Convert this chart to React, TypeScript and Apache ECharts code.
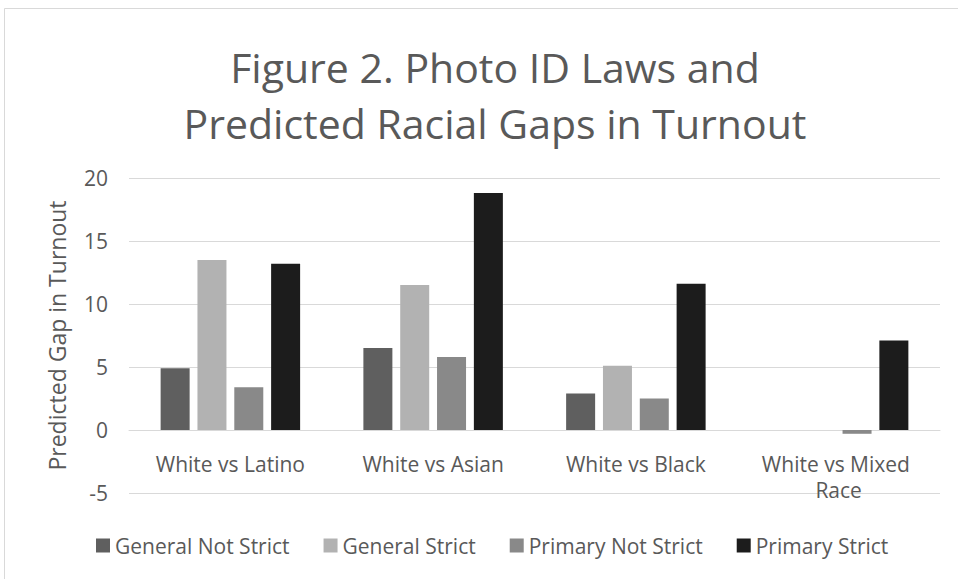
import React, { useEffect, useRef } from "react";
import * as echarts from "echarts";

const categories = ["White vs Latino", "White vs Asian", "White vs Black", "White vs Mixed Race"];
const seriesNames = ["General Not Strict", "General Strict", "Primary Not Strict", "Primary Strict"];
const generalNotStrict = [4.9, 6.5, 2.9, 0];
const generalStrict = [13.5, 11.5, 5.1, 0];
const primaryNotStrict = [3.4, 5.8, 2.5, -0.3];
const primaryStrict = [13.2, 18.8, 11.6, 7.1];
const colors = ["#5f5f5f", "#b2b2b2", "#898989", "#1c1c1c"];

const FONT = "'Open Sans', 'Noto Sans', sans-serif";
const TXT = "#595959";

export default function App() {
  const ref = useRef<HTMLDivElement>(null);
  useEffect(() => {
    if (!ref.current) return;
    const chart = echarts.init(ref.current, undefined, { renderer: "svg" });
    const values = [generalNotStrict, generalStrict, primaryNotStrict, primaryStrict];
    chart.setOption({
      animation: false,
      backgroundColor: "#ffffff",
      title: {
        text: "Figure 2. Photo ID Laws and\nPredicted Racial Gaps in Turnout",
        left: 490,
        top: 34,
        textAlign: "center",
        textStyle: { fontFamily: FONT, fontSize: 41, fontWeight: "normal", color: TXT, lineHeight: 56 },
      },
      graphic: [
        {
          type: "rect",
          shape: { x: 4.5, y: 8.5, width: 1000, height: 1000 },
          style: { fill: "none", stroke: "#d9d9d9", lineWidth: 1 },
          silent: true,
        },
      ],
      legend: {
        data: seriesNames,
        left: 91,
        top: 530,
        itemWidth: 14,
        itemHeight: 14,
        itemGap: 34,
        icon: "rect",
        textStyle: { fontFamily: FONT, fontSize: 21, color: TXT },
      },
      grid: { left: 129, right: 18, top: 178, bottom: 86, containLabel: false },
      xAxis: {
        type: "category",
        data: categories,
        offset: -63,
        axisLine: { show: true, onZero: false, lineStyle: { color: "#d9d9d9" } },
        axisTick: { show: false },
        axisLabel: {
          interval: 0,
          fontFamily: FONT,
          fontSize: 21,
          color: TXT,
          margin: 21,
          width: 170,
          overflow: "break",
          lineHeight: 26,
        },
      },
      yAxis: {
        type: "value",
        min: -5,
        max: 20,
        interval: 5,
        name: "Predicted Gap in Turnout",
        nameLocation: "middle",
        nameGap: 61,
        nameTextStyle: { fontFamily: FONT, fontSize: 23, color: TXT },
        axisLine: { show: false },
        axisTick: { show: false },
        axisLabel: { fontFamily: FONT, fontSize: 21, color: TXT, margin: 21 },
        splitLine: { lineStyle: { color: "#d9d9d9", width: 1 } },
      },
      series: seriesNames.map((name, i) => ({
        name,
        type: "bar",
        data: values[i],
        barWidth: 29,
        barGap: "27%",
        itemStyle: { color: colors[i] },
      })),
    });
    return () => chart.dispose();
  }, []);
  return (
    <div
      ref={ref}
      style={{ position: "fixed", left: 0, top: 0, width: 958, height: 579 }}
    />
  );
}
